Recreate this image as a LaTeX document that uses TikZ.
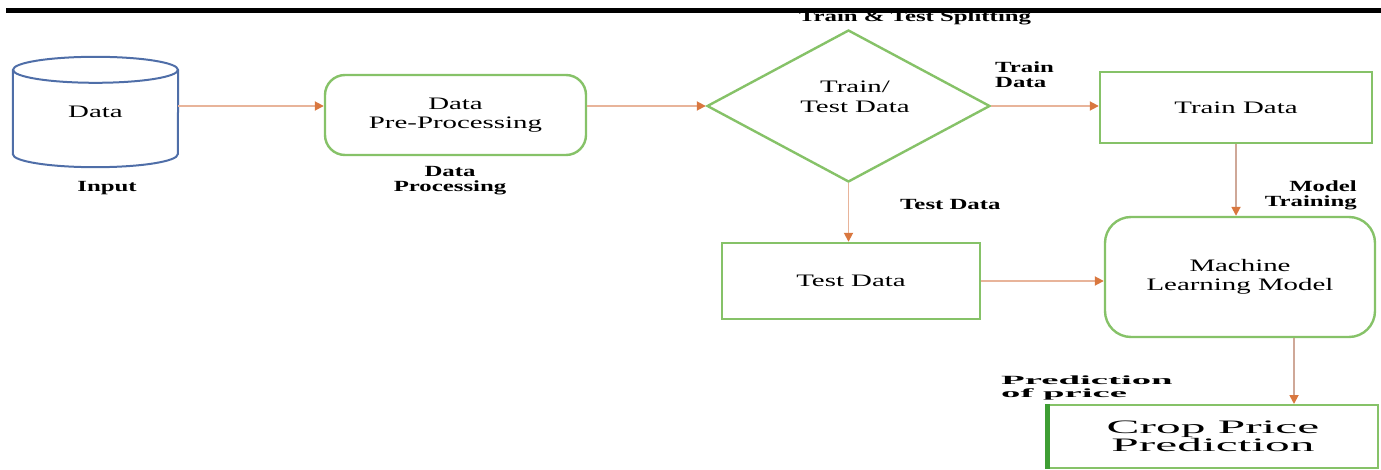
\documentclass[tikz,border=0pt]{standalone}
\usepackage{fontspec}
\setmainfont{Liberation Serif}
\newfontfamily\regf{Liberation Serif}[FakeStretch=1.65]
\newfontfamily\labf{Liberation Serif}[FakeStretch=1.6]
\newfontfamily\cropf{Liberation Serif}[FakeStretch=2.6]
\newfontfamily\predf{Liberation Serif}[FakeStretch=3.1]
\usetikzlibrary{shapes.geometric,arrows.meta}
\definecolor{boxgreen}{HTML}{86C268}
\definecolor{darkgreen}{HTML}{3E9E34}
\definecolor{cylblue}{HTML}{4F6EA8}
\definecolor{arrowline}{HTML}{E8B49A}
\definecolor{arrowhead}{HTML}{D9773F}
\definecolor{vline}{HTML}{CFA898}
\tikzset{
  txt/.style={font=\regf\fontsize{17.5}{19.5}\selectfont, align=center, inner sep=0pt},
  box/.style={txt, draw=boxgreen, line width=2.4pt},
  rbox/.style={box, rounded corners=20pt},
  lbl/.style={font=\labf\bfseries\fontsize{15.5}{15}\selectfont, inner sep=0pt},
  arr/.style={draw=arrowline, line width=1.8pt, -{Triangle[length=9pt,width=9pt,color=arrowhead,fill=arrowhead]}},
  varr/.style={arr, draw=vline}
}
\begin{document}
\begin{tikzpicture}[x=1pt,y=-1pt]
\useasboundingbox (0,0) rectangle (1381,470);
% top rule
\fill[black] (6,8) rectangle (1381,13.5);

% cylinder "Data"
\node[txt, minimum width=165pt, minimum height=84pt] (cyl) at (95.5,112) {\raisebox{-8pt}{Data}};
\draw[cylblue, line width=2pt] (cyl.north west) -- (cyl.south west)
   arc[start angle=180, end angle=360, x radius=82.5pt, y radius=13pt] -- (cyl.north east);
\draw[cylblue, line width=2pt] (cyl.north) ellipse[x radius=82.5pt, y radius=13pt];
\node[lbl] (input) at (107,188) {Input};

% Data pre-processing
\node[rbox, minimum width=261pt, minimum height=80pt] (prep) at (455.5,115) {Data\\Pre-Processing};
\node[lbl, align=center] (dproc) at (450,181) {Data\\Processing};

% diamond
\node[diamond, draw=boxgreen, line width=2.4pt, minimum width=283pt, minimum height=152pt, inner sep=0pt] (dia) at (848.5,106) {};
\node[txt] (diatext) at (855,97) {Train/\\Test Data};
\node[lbl] (split) at (915,18) {Train \& Test Splitting};

% train data
\node[box, minimum width=272pt, minimum height=71pt] (train) at (1236,107.5) {Train Data};
\node[lbl, align=left, anchor=west] (trainlbl) at (995,75) {Train\\Data};

% test data
\node[box, minimum width=258pt, minimum height=76pt] (test) at (851,281) {Test Data};
\node[lbl, anchor=west] (testlbl) at (900,205) {Test Data};

% ML model
\node[rbox, rounded corners=26pt, minimum width=270pt, minimum height=120pt] (ml) at (1240,277) {Machine\\Learning Model};
\node[lbl, align=right, anchor=east] (mtrain) at (1357,195) {Model\\Training};

% crop price prediction
\node[box, line width=2pt, minimum width=330pt, minimum height=63pt, font=\cropf\fontsize{19}{17}\selectfont] (crop) at (1213,436.5) {Crop Price\\Prediction};
\draw[darkgreen, line width=5pt] (crop.north west) -- (crop.south west);
\node[align=left, anchor=west, inner sep=0pt, font=\predf\bfseries\fontsize{12.5}{13}\selectfont] (predlbl) at (1001,388) {Prediction\\of price};

% connectors
\draw[arr] (cyl.east |- dia.west) -- (prep.west |- dia.west);
\draw[arr] (prep.east |- dia.west) -- (dia.west);
\draw[arr] (dia.east) -- (dia.east -| train.west);
\draw[arr] (dia.south) -- (dia.south |- test.north);
\draw[arr] (test.east) -- (test.east -| ml.west);
\draw[varr] (train.south) -- (train.south |- ml.north);
\draw[varr] ([xshift=54pt]ml.south) -- ([xshift=54pt]ml.south |- crop.north);
\end{tikzpicture}
\end{document}
